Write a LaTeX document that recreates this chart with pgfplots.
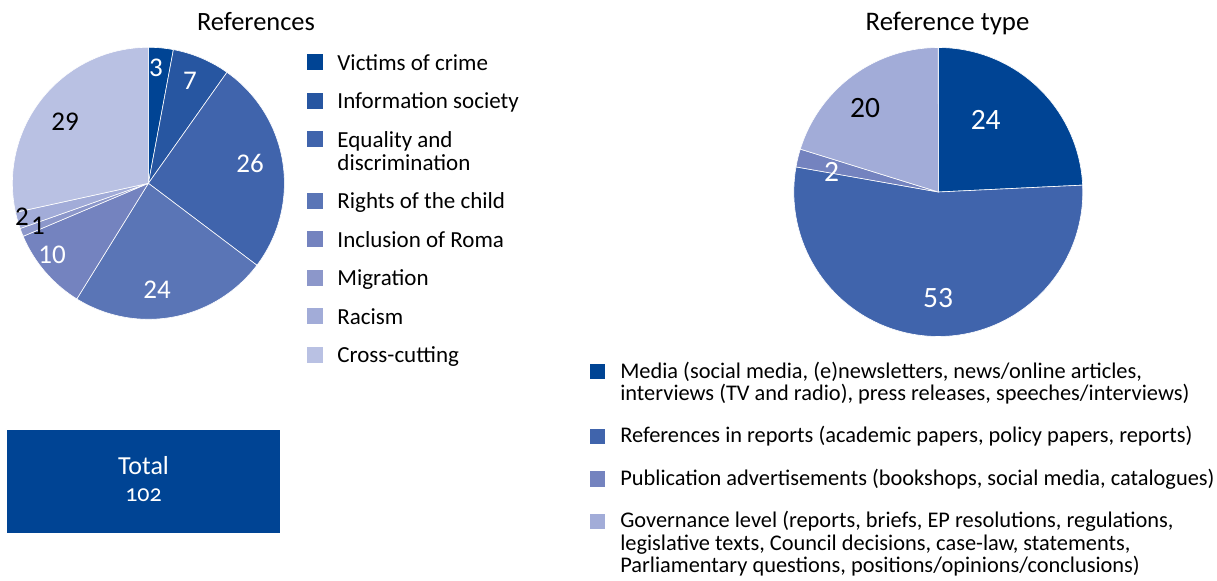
\documentclass[border=0pt]{standalone}
\usepackage{fontspec}
\setmainfont{Carlito}
\newfontfamily\oldnum{Carlito}[Numbers=OldStyle]
\usepackage{pgfplots}
\pgfplotsset{compat=1.18}
\definecolor{cA}{HTML}{004494}
\definecolor{cB}{HTML}{2756A1}
\definecolor{cC}{HTML}{4064AC}
\definecolor{cD}{HTML}{5A75B6}
\definecolor{cE}{HTML}{7483BF}
\definecolor{cF}{HTML}{8C97CA}
\definecolor{cG}{HTML}{A2ACD8}
\definecolor{cH}{HTML}{B9C1E3}
% slice: colour, cumulative start, cumulative end, total, cx, cy, r
\newcommand{\slice}[7]{%
  \addplot[fill=#1, draw=white, line width=0.3pt, domain=90-360*#3/#4:90-360*#2/#4, samples=90, variable=\t]
    ({#5+#7*cos(\t)}, {#6+#7*sin(\t)}) -- (axis cs:#5,#6) -- cycle;}
\newcommand{\onel}[1]{\hbox{\strut\smash{#1}}}
\newcommand{\twol}[2]{\vtop{\onel{#1}\onel{#2}}}
\newcommand{\threel}[3]{\vtop{\onel{#1}\onel{#2}\onel{#3}}}
\begin{document}
\begin{tikzpicture}
% ---------------- left: References ----------------
\begin{axis}[hide axis, x=0.5pt, y=0.5pt, xmin=0, xmax=1217, ymin=0, ymax=580, clip=false,
  area legend,
  legend image code/.code={\fill[#1, draw=none] (0pt,0pt) rectangle (8pt,8pt);},
  legend style={draw=none, fill=none, inner sep=0pt, at={(0.2523,0.9071)}, anchor=north west,
    row sep=7.75pt, column sep=7pt, font=\fontsize{11.5}{11.5}\selectfont,
    cells={anchor=base west}, nodes={inner sep=0pt, text depth=, text height=}},
]
% values: 3, 7, 26, 24, 10, 1, 2, 29 (total 102)
\slice{cA}{0}{3}{102}{148.4}{396.7}{136}
\addlegendentry{\onel{Victims of crime}}
\slice{cB}{3}{10}{102}{148.4}{396.7}{136}
\addlegendentry{\onel{Information society}}
\slice{cC}{10}{36}{102}{148.4}{396.7}{136}
\addlegendentry{\twol{Equality and}{discrimination}}
\slice{cD}{36}{60}{102}{148.4}{396.7}{136}
\addlegendentry{\onel{Rights of the child}}
\slice{cE}{60}{70}{102}{148.4}{396.7}{136}
\addlegendentry{\onel{Inclusion of Roma}}
\slice{cF}{70}{71}{102}{148.4}{396.7}{136}
\addlegendentry{\onel{Migration}}
\slice{cG}{71}{73}{102}{148.4}{396.7}{136}
\addlegendentry{\onel{Racism}}
\slice{cH}{73}{102}{102}{148.4}{396.7}{136}
\addlegendentry{\onel{Cross-cutting}}
\node[anchor=base, font=\fontsize{13.2}{15}\selectfont] at (axis cs:256,549) {References};
\begin{scope}[every node/.style={inner sep=0pt, font=\fontsize{13.5}{15}\selectfont}]
\node[text=white] at (axis cs:156,512) {3};
\node[text=white] at (axis cs:190,499) {7};
\node[text=white] at (axis cs:250,417) {26};
\node[text=white] at (axis cs:157,290) {24};
\node[text=white] at (axis cs:52,325) {10};
\node[text=black] at (axis cs:38,354) {1};
\node[text=black] at (axis cs:22,363) {2};
\node[text=black] at (axis cs:65,458) {29};
\end{scope}
\node[fill=cA, minimum width=136.5pt, minimum height=51.5pt, inner sep=0pt, anchor=south west] at (axis cs:7,47) {};
\node[anchor=base, text=white, inner sep=0pt, font=\fontsize{13}{15}\selectfont] at (axis cs:143.5,105) {Total};
\node[anchor=base, text=white, inner sep=0pt, font=\oldnum\fontsize{12}{14}\selectfont] at (axis cs:143.5,78.3) {102};
\end{axis}
% ---------------- right: Reference type ----------------
\begin{axis}[hide axis, x=0.5pt, y=0.5pt, xmin=0, xmax=1217, ymin=0, ymax=580, clip=false,
  area legend,
  legend image code/.code={\fill[#1, draw=none] (0pt,-0.6pt) rectangle (7.8pt,7.2pt);},
  legend style={draw=none, fill=none, inner sep=0pt, at={(0.48422,0.37569)}, anchor=north west,
    row sep=10.1pt, column sep=7.5pt, font=\fontsize{11.19}{11.15}\selectfont,
    cells={anchor=base west}, nodes={inner sep=0pt, text depth=, text height=}},
]
% values: 24, 53, 2, 20 (total 99)
\slice{cA}{0}{24}{99}{938.3}{388}{144.5}
\addlegendentry{\twol{Media (social media, (e)newsletters, news/online articles,}{interviews (TV and radio), press releases, speeches/interviews)}}
\slice{cC}{24}{77}{99}{938.3}{388}{144.5}
\addlegendentry{\onel{References in reports (academic papers, policy papers, reports)}}
\slice{cE}{77}{79}{99}{938.3}{388}{144.5}
\addlegendentry{\onel{Publication advertisements (bookshops, social media, catalogues)}}
\slice{cG}{79}{99}{99}{938.3}{388}{144.5}
\addlegendentry{\threel{Governance level (reports, briefs, EP resolutions, regulations,}{legislative texts, Council decisions, case-law, statements,}{Parliamentary questions, positions/opinions/conclusions)}}
\node[anchor=base, font=\fontsize{13.4}{15}\selectfont] at (axis cs:947.5,549) {Reference type};
\begin{scope}[every node/.style={inner sep=0pt, font=\fontsize{14.75}{16}\selectfont}]
\node[text=white] at (axis cs:985.7,460) {24};
\node[text=white] at (axis cs:938,282.3) {53};
\node[text=white] at (axis cs:831.7,407.7) {2};
\node[text=black] at (axis cs:865,471.7) {20};
\end{scope}
\end{axis}
\pgfresetboundingbox
\path[use as bounding box] (0,0) rectangle (608.5pt,290pt);
\end{tikzpicture}
\end{document}
